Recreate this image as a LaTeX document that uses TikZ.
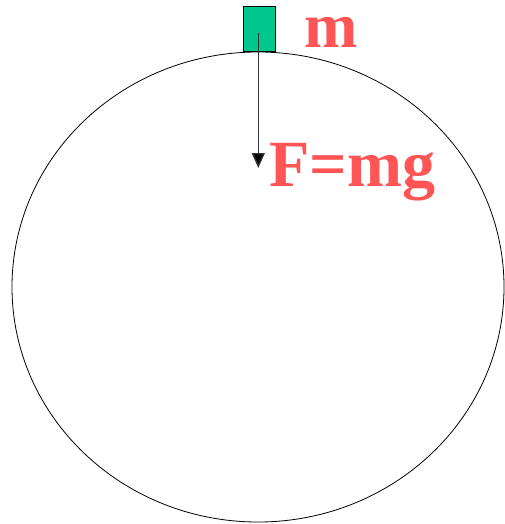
\documentclass[tikz,border=0pt]{standalone}
\usepackage{fontspec}
\setmainfont{Liberation Serif}
\usetikzlibrary{shapes.geometric,arrows.meta}
\definecolor{lbl}{RGB}{255,85,85}
\definecolor{massgreen}{RGB}{0,200,140}
\begin{document}
\begin{tikzpicture}[x=1pt,y=-1pt,
  lab/.style={text=lbl,font=\fontsize{64}{64}\selectfont\bfseries,inner sep=0pt,anchor=base west},
  force/.style={draw=black!80,line width=1.4pt,-{Triangle[length=15pt,width=13pt,fill=black]}}]
\useasboundingbox (0,0) rectangle (505,524);
\node[draw=black,line width=0.8pt,ellipse,minimum width=492pt,minimum height=470pt,inner sep=0pt] (earth) at (258,287) {};
\node[draw=black,line width=1pt,fill=massgreen,minimum width=32pt,minimum height=45pt,inner sep=0pt] (mass) at (259.5,29.5) {};
\coordinate (mc) at (258.3,33);
\coordinate (tip) at (258.3,168);
\draw[force] (mc) -- (tip);
\node[lab] (mlab) at (304,48) {m};
\node[lab,font=\fontsize{66}{66}\selectfont\bfseries] (flab) at (269,186) {F=mg};
\end{tikzpicture}
\end{document}
